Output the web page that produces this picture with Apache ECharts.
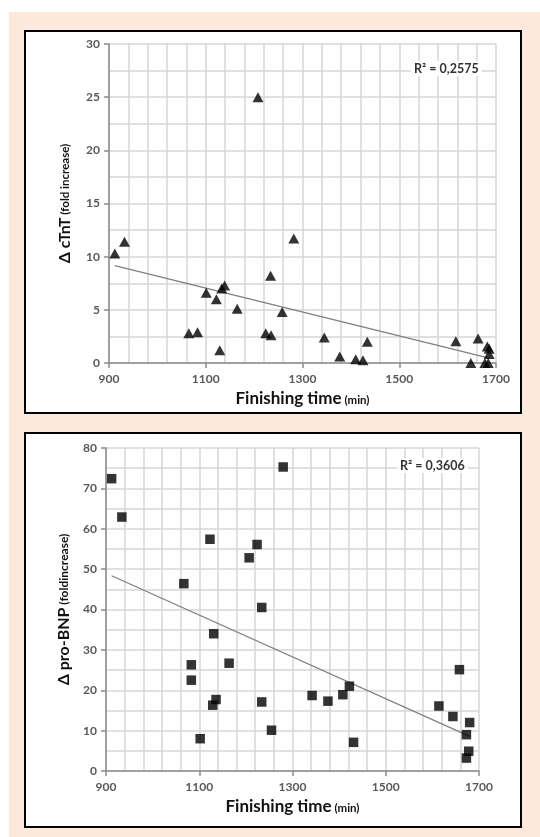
<!DOCTYPE html>
<html><head><meta charset="utf-8">
<script src="https://cdn.jsdelivr.net/npm/echarts/dist/echarts.min.js"></script>
<style>
html,body{margin:0;padding:0;background:#fff;width:540px;height:837px;overflow:hidden;position:relative;}
#bg{position:absolute;left:9px;top:12px;width:531px;height:825px;background:#fce9dc;}
.panel{position:absolute;background:#fff;border:2px solid #000;box-sizing:border-box;}
#p1{left:24px;top:30px;width:498px;height:384px;}
#p2{left:24px;top:432px;width:498px;height:396px;}
#c{position:absolute;left:0;top:0;width:540px;height:837px;}
</style>
</head><body>
<div id="bg"></div><div class="panel" id="p1"></div><div class="panel" id="p2"></div>
<div id="c"></div>
<script>
// Top panel: Δ cTnT vs finishing time
const finishTimeCTnT = [912, 932, 1065, 1083, 1101, 1122, 1129, 1133, 1139, 1165, 1208, 1224, 1234, 1235, 1258, 1282, 1345, 1377, 1410, 1425, 1434, 1617, 1648, 1663, 1677, 1682, 1684, 1686, 1686];
const deltaCTnT      = [10.3, 11.4, 2.8, 2.9, 6.6, 6.0, 1.2, 7.0, 7.3, 5.1, 25.0, 2.8, 8.2, 2.6, 4.8, 11.7, 2.4, 0.6, 0.35, 0.25, 2.0, 2.05, 0, 2.3, 0, 1.55, 0, 1.35, 0.85];
// Bottom panel: Δ pro-BNP vs finishing time
const finishTimeBNP = [912, 934, 1280, 1123, 1224, 1207, 1067, 1234, 1131, 1083, 1164, 1083, 1129, 1136, 1234, 1102, 1255, 1342, 1376, 1408, 1422, 1431, 1614, 1644, 1658, 1680, 1673, 1678, 1673];
const deltaProBNP   = [72.4, 62.9, 75.3, 57.4, 56.1, 52.8, 46.4, 40.5, 34.0, 26.3, 26.7, 22.5, 16.3, 17.7, 17.1, 8.0, 10.1, 18.7, 17.3, 18.9, 21.0, 7.1, 16.1, 13.5, 25.1, 12.0, 9.0, 4.9, 3.2];

const r2Top = 'R² = 0,2575';
const r2Bottom = 'R² = 0,3606';

function fit(xs, ys){
  const n = xs.length;
  const mx = xs.reduce((a,b)=>a+b,0)/n, my = ys.reduce((a,b)=>a+b,0)/n;
  let sxy=0, sxx=0;
  for(let i=0;i<n;i++){ sxy+=(xs[i]-mx)*(ys[i]-my); sxx+=(xs[i]-mx)*(xs[i]-mx); }
  const b = sxy/sxx, a = my - b*mx;
  const x0 = Math.min(...xs), x1 = Math.max(...xs);
  return [[x0, a+b*x0],[x1, a+b*x1]];
}
const pairs = (xs, ys) => xs.map((x,i)=>[x, ys[i]]);

const FONT = 'Lato, "Open Sans", sans-serif';
const gridLine = {show:true, lineStyle:{color:'#d6d6d6', width:1.5}};
function xAxisCfg(gi){
  return {
    type:'value', gridIndex:gi, min:900, max:1700, interval:200,
    name:'{a|Finishing time}{b| (min)}', nameLocation:'middle', nameGap:27,
    nameTextStyle:{rich:{a:{fontFamily:FONT,fontSize:17,fontWeight:'bold',color:'#111'},b:{fontFamily:FONT,fontSize:11.5,fontWeight:'bold',color:'#111',padding:[4,0,0,0]}}},
    axisLine:{show:true, lineStyle:{color:'#8c8c8c', width:1.5}},
    axisTick:{show:true, length:5, lineStyle:{color:'#8c8c8c', width:1.5}},
    axisLabel:{fontFamily:FONT, fontSize:12, fontWeight:'bold', color:'#595959', margin:10, formatter:v=>String(v)},
    splitLine:gridLine, minorTick:{show:false, splitNumber:5}, minorSplitLine:gridLine
  };
}
function yAxisCfg(gi, max, interval, title, big, small, gap){
  return {
    type:'value', gridIndex:gi, min:0, max:max, interval:interval,
    name:title, nameLocation:'middle', nameGap:gap, nameRotate:90,
    nameTextStyle:{rich:{a:{fontFamily:FONT,fontSize:big,fontWeight:'bold',color:'#111'},b:{fontFamily:FONT,fontSize:small,fontWeight:'bold',color:'#111'}}},
    axisLine:{show:true, lineStyle:{color:'#8c8c8c', width:1.5}},
    axisTick:{show:true, length:5, lineStyle:{color:'#8c8c8c', width:1.5}},
    axisLabel:{fontFamily:FONT, fontSize:12, fontWeight:'bold', color:'#595959', margin:9},
    splitLine:gridLine, minorTick:{show:false, splitNumber:2}, minorSplitLine:gridLine
  };
}

const chart = echarts.init(document.getElementById('c'), null, {renderer:'canvas'});
chart.setOption({
  backgroundColor:'transparent',
  animation:false,
  title:[
    {text:r2Top, left:411, top:61, padding:[1,3], backgroundColor:'#fff', textStyle:{fontFamily:FONT,fontSize:12.5,fontWeight:'bold',color:'#333'}},
    {text:r2Bottom, left:397, top:458, padding:[1,3], backgroundColor:'#fff', textStyle:{fontFamily:FONT,fontSize:12.5,fontWeight:'bold',color:'#333'}}
  ],
  grid:[
    {left:109, top:44, width:387, height:319},
    {left:106, top:448, width:373, height:323}
  ],
  xAxis:[xAxisCfg(0), xAxisCfg(1)],
  yAxis:[
    yAxisCfg(0, 30, 5, '{a|Δ cTnT}{b| (fold increase)}', 16, 11.5, 36),
    yAxisCfg(1, 80, 10, '{a|Δ pro-BNP}{b| (foldincrease)}', 16, 12, 34)
  ],
  series:[
    {type:'scatter', xAxisIndex:0, yAxisIndex:0, data:pairs(finishTimeCTnT, deltaCTnT), symbol:'triangle', symbolSize:[11,10], itemStyle:{color:'#000'}, z:3},
    {type:'line', xAxisIndex:0, yAxisIndex:0, data:fit(finishTimeCTnT, deltaCTnT), showSymbol:false, symbol:'none', lineStyle:{color:'#7f7f7f', width:1.2}, z:2},
    {type:'scatter', xAxisIndex:1, yAxisIndex:1, data:pairs(finishTimeBNP, deltaProBNP), symbol:'rect', symbolSize:9.5, itemStyle:{color:'#000'}, z:3},
    {type:'line', xAxisIndex:1, yAxisIndex:1, data:fit(finishTimeBNP, deltaProBNP), showSymbol:false, symbol:'none', lineStyle:{color:'#7f7f7f', width:1.2}, z:2}
  ]
});
</script>
</body></html>
